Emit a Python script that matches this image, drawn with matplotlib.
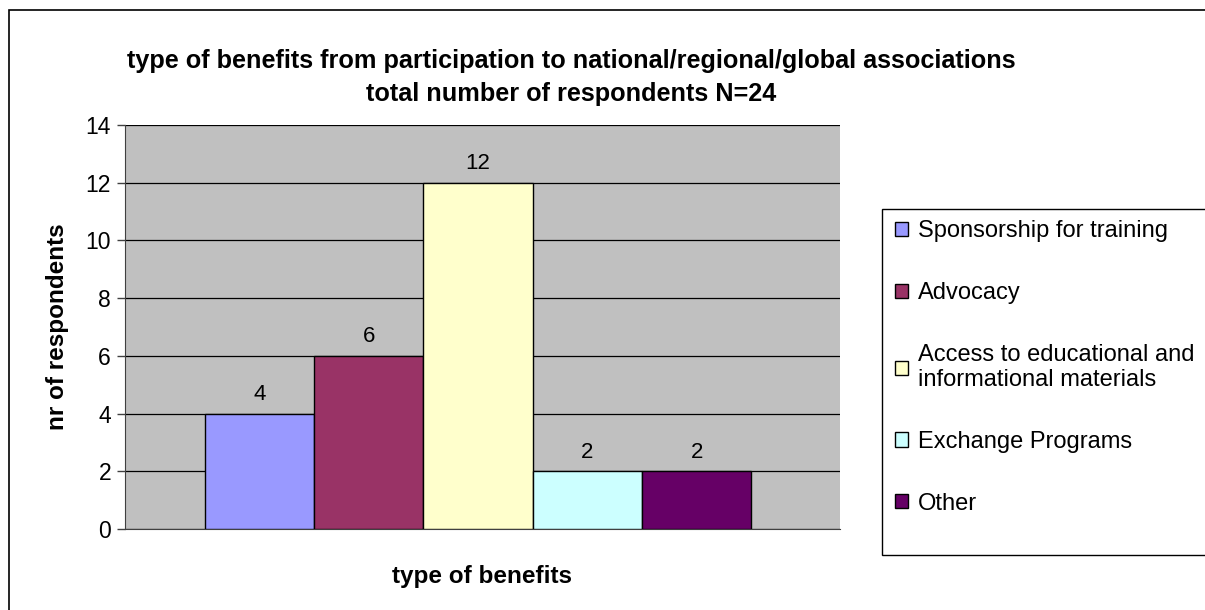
import numpy as np
import matplotlib.pyplot as plt
from matplotlib.patches import Rectangle

plt.rcParams['font.family'] = ['Liberation Sans', 'DejaVu Sans']

# Data
categories = ["Sponsorship for training", "Advocacy",
              "Access to educational and\ninformational materials",
              "Exchange Programs", "Other"]
counts = [4, 6, 12, 2, 2]
colors = ["#9999FF", "#993366", "#FFFFCC", "#CCFFFF", "#660066"]

W, H = 1205, 610
fig = plt.figure(figsize=(W / 100, H / 100), dpi=100)

# outer chart border (cut off at right and bottom like the source)
fig.patches.append(Rectangle((9 / W, -0.1), 1.2, 1 - 10 / H + 0.1,
                             transform=fig.transFigure, fill=False,
                             edgecolor="black", linewidth=1.2))

ax = fig.add_axes([125 / W, 1 - 529 / H, (840 - 125) / W, (529 - 125) / H])
ax.set_facecolor("#C0C0C0")

x = np.arange(len(counts))
bars = ax.bar(x, counts, width=1.0, color=colors, edgecolor="black",
              linewidth=1.0, label=categories, zorder=3)

for xi, v in zip(x, counts):
    ax.text(xi, v + 0.3, str(v), ha="center", va="bottom", fontsize=16)

ax.set_xlim(-1.23, 5.31)
ax.set_ylim(0, 14)
ax.set_yticks(range(0, 15, 2))
ax.set_xticks([])
ax.yaxis.grid(True, color="black", linewidth=0.9, zorder=0)
ax.tick_params(axis="y", labelsize=16.5, direction="out", length=6, width=1,
               color="#404040", pad=4)
for s in ["top", "right"]:
    ax.spines[s].set_visible(False)
ax.spines["left"].set_color("#404040")
ax.spines["bottom"].set_color("#404040")

ax.set_ylabel("nr of respondents", fontsize=17.5, fontweight="bold", labelpad=12)
ax.set_xlabel("type of benefits", fontsize=17.5, fontweight="bold", labelpad=26)

fig.text(571 / W, 1 - 61 / H,
         "type of benefits from participation to national/regional/global associations",
         ha="center", va="center", fontsize=18.2, fontweight="bold")
fig.text(571 / W, 1 - 94 / H, "total number of respondents N=24",
         ha="center", va="center", fontsize=18.2, fontweight="bold")

# legend box
fig.patches.append(Rectangle((882 / W, 1 - 555 / H), 0.5, (555 - 209) / H,
                             transform=fig.transFigure, fill=True,
                             facecolor="white", edgecolor="black",
                             linewidth=1.0, zorder=0))
fig.legend(handles=list(bars), labels=categories, loc="upper left",
           bbox_to_anchor=(886 / W, 1 - 211 / H), frameon=False,
           fontsize=17, handlelength=0.55, handleheight=0.55,
           handletextpad=0.4, labelspacing=1.68, borderaxespad=0)

fig.savefig("out.png", dpi=100)
